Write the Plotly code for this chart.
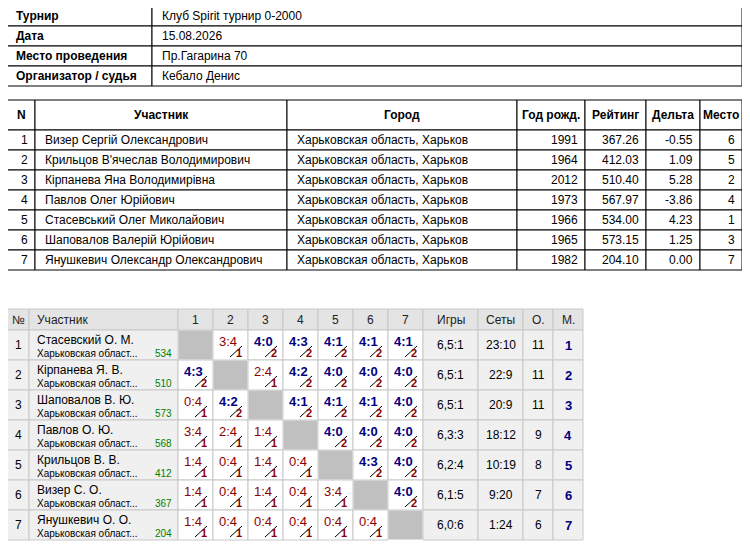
import plotly.graph_objects as go

# --- data ---
info_labels = ["Турнир", "Дата", "Место проведения", "Организатор / судья"]
info_values = ["Клуб Spirit турнир 0-2000", "15.08.2026", "Пр.Гагарина 70", "Кебало Денис"]

p_cols = ["N", "Участник", "Город", "Год рожд.", "Рейтинг", "Дельта", "Место"]
p_num = [1, 2, 3, 4, 5, 6, 7]
p_names = ["Визер Сергій Олександрович", "Крильцов В'ячеслав Володимирович",
           "Кірпанева Яна Володимирівна", "Павлов Олег Юрійович",
           "Стасевський Олег Миколайович", "Шаповалов Валерій Юрійович",
           "Янушкевич Олександр Олександрович"]
p_city = ["Харьковская область, Харьков"] * 7
p_year = [1991, 1964, 2012, 1973, 1966, 1965, 1982]
p_rating = [367.26, 412.03, 510.40, 567.97, 534.00, 573.15, 204.10]
p_delta = [-0.55, 1.09, 5.28, -3.86, 4.23, 1.25, 0.00]
p_place = [6, 5, 2, 4, 1, 3, 7]

g_names = ["Стасевский О. М.", "Кірпанева Я. В.", "Шаповалов В. Ю.", "Павлов О. Ю.",
           "Крильцов В. В.", "Визер С. О.", "Янушкевич О. О."]
g_region = "Харьковская област..."
g_rating = [534, 510, 573, 568, 412, 367, 204]
g_scores = [
    [None, "3:4", "4:0", "4:3", "4:1", "4:1", "4:1"],
    ["4:3", None, "2:4", "4:2", "4:0", "4:0", "4:0"],
    ["0:4", "4:2", None, "4:1", "4:1", "4:1", "4:0"],
    ["3:4", "2:4", "1:4", None, "4:0", "4:0", "4:0"],
    ["1:4", "0:4", "1:4", "0:4", None, "4:3", "4:0"],
    ["1:4", "0:4", "1:4", "0:4", "3:4", None, "4:0"],
    ["1:4", "0:4", "0:4", "0:4", "0:4", "0:4", None],
]
g_games = ["6,5:1", "6,5:1", "6,5:1", "6,3:3", "6,2:4", "6,1:5", "6,0:6"]
g_sets = ["23:10", "22:9", "20:9", "18:12", "10:19", "9:20", "1:24"]
g_points = [11, 11, 11, 9, 8, 7, 6]
g_place = [1, 2, 3, 4, 5, 6, 7]

FONT = "Liberation Sans, Arial"
shapes, ann = [], []


def rect(x0, y0, x1, y1, fill="white", line="#000", w=1):
    shapes.append(dict(type="rect", x0=x0, y0=y0, x1=x1, y1=y1, fillcolor=fill,
                       line=dict(color=line, width=w), layer="below"))


def text(x, y, s, size=12, color="#000", bold=False, anchor="left"):
    ann.append(dict(x=x, y=y, text=f"<b>{s}</b>" if bold else str(s), showarrow=False,
                    xanchor=anchor, yanchor="middle",
                    font=dict(family=FONT, size=size, color=color)))


# --- info table ---
for i, (lab, val) in enumerate(zip(info_labels, info_values)):
    y0 = 6 + i * 20
    rect(7, y0, 152, y0 + 20)
    rect(152, y0, 742, y0 + 20)
    text(14, y0 + 10, lab, bold=True)
    text(160, y0 + 10, val)

# --- participants table ---
pc = [7, 35, 287, 517, 585, 646, 700, 742]
for j, c in enumerate(p_cols):
    rect(pc[j], 100, pc[j + 1], 130)
    text((pc[j] + pc[j + 1]) / 2, 115, c, bold=True, anchor="center")
for i in range(7):
    y0 = 130 + i * 20
    vals = [p_num[i], p_names[i], p_city[i], p_year[i], f"{p_rating[i]:.2f}",
            f"{p_delta[i]:.2f}", p_place[i]]
    for j, v in enumerate(vals):
        rect(pc[j], y0, pc[j + 1], y0 + 20)
        if j in (1, 2):
            text(pc[j] + 8, y0 + 10, v)
        else:
            text(pc[j + 1] - 5, y0 + 10, v, anchor="right")

# --- group table ---
text(7, 299, "Группа-1", bold=True)
gc = [7, 29, 178, 213, 248, 283, 318, 353, 388, 423, 478, 523, 553, 583]
heads = ["№", "Участник"] + [str(k) for k in range(1, 8)] + ["Игры", "Сеты", "О.", "М."]
GL = "#c8c8c8"
for j, h in enumerate(heads):
    rect(gc[j], 309, gc[j + 1], 330, fill="#e4e4e4", line=GL)
    if j == 1:
        text(gc[j] + 6, 319.5, h, color="#222")
    else:
        text((gc[j] + gc[j + 1]) / 2, 319.5, h, color="#222", anchor="center")
BLUE, RED = "#000080", "#8b0000"
for i in range(7):
    y0 = 330 + i * 30
    rect(gc[0], y0, gc[1], y0 + 30, fill="#f0f0f0", line=GL)
    text((gc[0] + gc[1]) / 2, y0 + 15, i + 1, anchor="center")
    rect(gc[1], y0, gc[2], y0 + 30, fill="#f0f0f0", line=GL)
    text(gc[1] + 6, y0 + 10, g_names[i])
    text(gc[1] + 6, y0 + 23, g_region, size=10)
    text(gc[2] - 4, y0 + 23, g_rating[i], size=10, color="#008000", anchor="right")
    for k in range(7):
        x0, x1 = gc[2 + k], gc[3 + k]
        s = g_scores[i][k]
        if s is None:
            rect(x0 + 1, y0 + 1, x1 - 1, y0 + 29, fill="#c0c0c0", line="#c0c0c0")
            continue
        rect(x0, y0, x1, y0 + 30, line=GL)
        a, b = map(int, s.split(":"))
        win = a > b
        col = BLUE if win else RED
        text(x0 + 15, y0 + 11, s, size=13, color=col, bold=win, anchor="center")
        shapes.append(dict(type="line", x0=x0 + 17, y0=y0 + 27, x1=x0 + 29, y1=y0 + 16,
                           line=dict(color="#000", width=1)))
        text(x1 - 4, y0 + 23, 2 if win else 1, size=11, color=RED, bold=True, anchor="right")
    rest = [g_games[i], g_sets[i], g_points[i], g_place[i]]
    for k, v in enumerate(rest):
        rect(gc[9 + k], y0, gc[10 + k], y0 + 30, fill="#f0f0f0", line=GL)
        if k == 3:
            text((gc[12] + gc[13]) / 2, y0 + 15, v, size=13, color=BLUE, bold=True, anchor="center")
        else:
            text((gc[9 + k] + gc[10 + k]) / 2, y0 + 15, v, anchor="center")

# the page body adds an 8px margin, so the ranges are shifted to compensate
fig = go.Figure()
fig.update_layout(
    width=750, height=544, margin=dict(l=0, r=0, t=0, b=0),
    plot_bgcolor="white", paper_bgcolor="white",
    xaxis=dict(range=[8, 758], visible=False, fixedrange=True),
    yaxis=dict(range=[552, 8], visible=False, fixedrange=True),
    shapes=shapes, annotations=ann, showlegend=False,
)
fig.write_html("out.html")
